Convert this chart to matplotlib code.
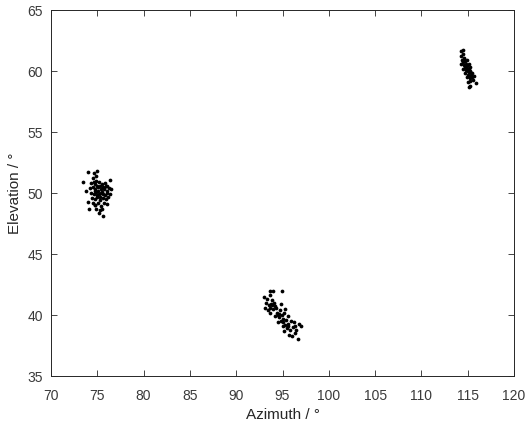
import matplotlib
matplotlib.use("Agg")
from matplotlib import pyplot as plt

# cluster near (75, 50)
az1 = [74.0, 74.6, 75.0, 73.5, 74.5, 74.9, 76.4, 74.0, 74.1, 75.3, 75.6, 74.7, 73.8, 76.5,
       74.3, 74.6, 74.9, 75.2, 75.5, 75.8, 76.1,
       74.2, 74.5, 74.8, 75.1, 75.4, 75.7, 76.0, 76.3,
       74.3, 74.6, 74.9, 75.2, 75.5, 75.8, 76.1, 76.4,
       74.4, 74.7, 75.0, 75.3, 75.6, 75.9, 76.2,
       74.5, 74.8, 75.1, 75.4, 75.7, 76.0,
       74.9, 75.2, 75.5,
       74.7, 75.0, 75.3, 75.6, 75.9, 74.8, 75.1, 75.4, 75.7, 75.0, 75.3, 75.6]
el1 = [51.7, 51.6, 51.8, 50.9, 51.2, 51.4, 51.1, 49.3, 48.7, 48.6, 48.1, 49.0, 50.2, 50.3,
       50.8, 50.9, 51.0, 50.9, 50.7, 50.8, 50.6,
       50.4, 50.5, 50.3, 50.5, 50.3, 50.4, 50.2, 50.4,
       50.0, 49.9, 50.1, 49.9, 50.1, 49.8, 50.0, 49.9,
       49.6, 49.5, 49.7, 49.4, 49.6, 49.5, 49.7,
       49.2, 49.0, 49.2, 48.9, 49.2, 49.1,
       48.7, 48.4, 48.7,
       50.7, 50.6, 50.6, 50.5, 50.6, 50.2, 50.2, 50.0, 50.3, 49.8, 49.7, 49.9]

# cluster near (95, 40)
az2 = [93.7, 94.0, 94.9, 93.0, 93.3, 93.6, 93.9, 93.2, 93.5, 93.8, 94.1, 94.3, 93.4, 93.7,
       94.0, 94.4, 94.7, 94.2, 94.6, 94.9, 95.2, 94.5, 94.8, 95.1, 95.4, 95.6, 95.0, 95.3,
       95.6, 95.9, 96.2, 95.2, 95.5, 95.8, 96.1, 96.4, 96.8, 97.0, 95.7, 96.0, 96.3, 96.7,
       96.5, 93.1, 94.8, 95.3, 93.6, 94.2, 94.5, 95.0, 95.6, 93.9, 94.6]
el2 = [42.0, 42.0, 42.0, 41.5, 41.3, 41.6, 41.2, 41.0, 40.8, 40.9, 41.0, 40.6, 40.4, 40.2,
       40.5, 40.2, 40.4, 39.9, 39.8, 40.0, 40.2, 39.4, 39.5, 39.7, 39.6, 39.9, 39.1, 39.2,
       39.3, 39.5, 39.4, 38.7, 38.9, 38.8, 39.0, 39.1, 39.3, 39.1, 38.4, 38.3, 38.5, 38.0,
       38.8, 40.6, 40.9, 40.5, 40.6, 40.7, 40.0, 39.4, 39.1, 40.8, 40.1]

# cluster near (115, 60)
az3 = [114.3, 114.5, 114.3, 114.6, 114.4, 114.7, 114.9, 114.3, 114.6, 114.9, 115.1, 114.5,
       114.8, 115.1, 115.3, 114.7, 115.0, 115.3, 115.5, 114.9, 115.2, 115.5, 115.7, 115.0,
       115.3, 115.6, 115.9, 115.1, 115.3, 114.5, 115.0, 114.8,
       114.5, 114.7, 114.9, 115.1, 115.2, 115.4, 114.6, 115.0, 115.2]
el3 = [61.6, 61.4, 61.2, 61.1, 60.9, 60.8, 60.9, 60.6, 60.5, 60.4, 60.6, 60.2,
       60.1, 60.2, 60.3, 59.8, 59.7, 59.9, 59.8, 59.5, 59.4, 59.5, 59.6, 59.1,
       59.2, 59.3, 59.0, 58.7, 58.8, 61.7, 60.0, 60.6,
       60.7, 60.3, 60.2, 59.9, 60.0, 59.7, 61.0, 60.1, 59.6]

xticks = list(range(70, 121, 5))
yticks = list(range(35, 66, 5))

plt.rcParams['font.family'] = ['Liberation Sans', 'DejaVu Sans']

fig = plt.figure(figsize=(5.28, 4.24), dpi=100)
ax = fig.add_axes([0.0966, 0.1132, 0.8769, 0.8632])

for az, el in [(az1, el1), (az2, el2), (az3, el3)]:
    ax.plot(az, el, 'o', color='k', markersize=2.7, markeredgewidth=0)

ax.set_xlim(70, 120)
ax.set_ylim(35, 65)
ax.set_xticks(xticks)
ax.set_yticks(yticks)
ax.tick_params(direction='in', top=True, right=True, length=4, width=0.6,
               labelsize=10, labelcolor='#3a3a3a', color='#262626')
ax.tick_params(axis='x', pad=9)
ax.tick_params(axis='y', pad=6)
for s in ax.spines.values():
    s.set_color('#262626')
    s.set_linewidth(0.7)

ax.set_xlabel("Azimuth / °", fontsize=11, color='#262626', labelpad=4)
ax.set_ylabel("Elevation / °", fontsize=11, color='#262626', labelpad=4)

fig.savefig("out.png", dpi=100)
